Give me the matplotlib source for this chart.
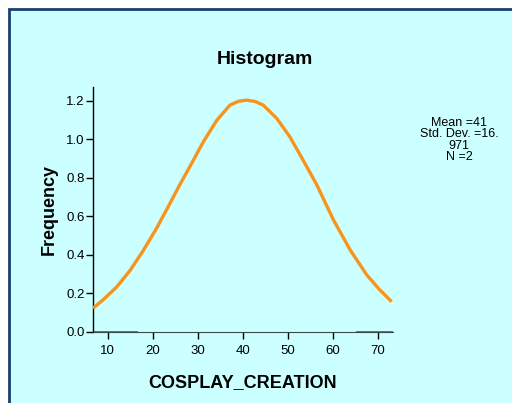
import matplotlib
matplotlib.use('Agg')
import matplotlib.pyplot as plt
from matplotlib.patches import Rectangle

# normal curve
curve_x = [6.7, 9.0, 11.9, 14.9, 17.8, 20.8, 23.8, 26.0, 28.6, 31.2, 34.2,
           37.1, 39.0, 40.8, 42.7, 44.5, 47.5, 50.4, 53.0, 56.4, 60.1, 63.8,
           67.5, 70.3, 73.0]
curve_y = [0.123, 0.168, 0.232, 0.318, 0.420, 0.537, 0.667, 0.765, 0.874,
           0.986, 1.098, 1.176, 1.196, 1.202, 1.195, 1.176, 1.107, 1.012,
           0.905, 0.762, 0.580, 0.425, 0.295, 0.220, 0.157]

# histogram bars (zero height, only their base is visible)
bar_left = [6.7, 65.1]
bar_right = [16.7, 73.3]
bar_height = [0, 0]

x_ticks = [10, 20, 30, 40, 50, 60, 70]
y_ticks = [0.0, 0.2, 0.4, 0.6, 0.8, 1.0, 1.2]
stats_text = "Mean =41\nStd. Dev. =16.\n971\nN =2"

bg = '#ccffff'
plt.rcParams['font.family'] = ['Liberation Sans', 'DejaVu Sans']

fig = plt.figure(figsize=(5.12, 4.03), dpi=100)
fig.patch.set_facecolor('white')

# framed background panel
frame = Rectangle((8.5 / 512, -0.05), 1.1, (403 - 9.5) / 403 + 0.05,
                  transform=fig.transFigure, facecolor=bg,
                  edgecolor='#1c3f6e', linewidth=2, zorder=-1)
fig.patches.append(frame)

ax = fig.add_axes([93 / 512, 71 / 403, 300 / 512, 245 / 403])
ax.set_zorder(2)
ax.set_facecolor(bg)

widths = [r - l for l, r in zip(bar_left, bar_right)]
ax.bar(bar_left, bar_height, width=widths, align='edge', color='#607878',
       edgecolor='#607878', linewidth=1.4, zorder=2, clip_on=False)
ax.plot(curve_x, curve_y, color='#f7941d', linewidth=2.4, zorder=3,
        solid_capstyle='butt', solid_joinstyle='round')

ax.set_xlim(6.7, 73.3)
ax.set_ylim(0, 1.27)
ax.set_xticks(x_ticks)
ax.set_yticks(y_ticks)
ax.set_yticklabels([f'{v:.1f}' for v in y_ticks])
ax.tick_params(axis='both', labelsize=9.5, length=5, width=1, color='black')
ax.tick_params(axis='x', pad=4)
ax.tick_params(axis='y', pad=1)
ax.spines['top'].set_visible(False)
ax.spines['right'].set_visible(False)
ax.spines['left'].set_linewidth(1)
ax.spines['bottom'].set_color('#3a4a4a')

ax.set_xlabel('COSPLAY_CREATION', fontsize=13, fontweight='bold', labelpad=13)
ax.set_ylabel('Frequency', fontsize=13, fontweight='bold', labelpad=6)

fig.text(265 / 512, 1 - 59 / 403, 'Histogram', fontsize=14, fontweight='bold',
         ha='center', va='center')
fig.text(459 / 512, 1 - 140 / 403, stats_text, fontsize=9, ha='center',
         va='center', linespacing=0.95)

fig.savefig('out.png', dpi=100, facecolor='white')
